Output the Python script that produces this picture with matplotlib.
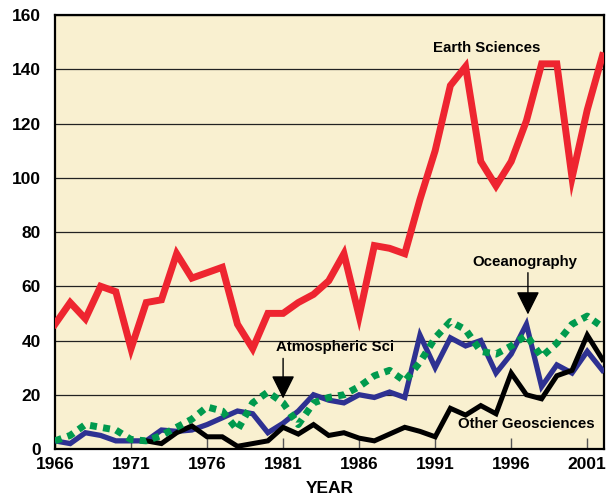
import numpy as np
import matplotlib.pyplot as plt

plt.rcParams['font.family'] = ['Liberation Sans', 'DejaVu Sans']
plt.rcParams['font.weight'] = 'bold'

years = np.arange(1966, 2003)
earth = [46, 54, 48, 60, 58, 37, 54, 55, 72, 63, 65, 67, 46, 37, 50, 50,
         54, 57, 62, 72, 49, 75, 74, 72, 92, 110, 134, 141, 106, 97, 106,
         121, 142, 142, 100, 125, 145]
ocean = [3, 2, 6, 5, 3, 3, 3, 7, 6.5, 7, 9, 11.5, 14, 13, 6, 9.5, 14, 20,
         18, 17, 20, 19, 21, 19, 42, 30, 41, 38, 40, 28, 35, 46, 23, 31,
         28, 36, 29]
atmos = [3, 5, 9, 8, 7, 3.5, 3, 5, 8, 11, 15.5, 14, 7, 17, 21, 17, 9, 17,
         19, 20, 23, 27, 29, 25, 32, 41, 47, 44, 36, 35, 38, 42, 34, 39,
         46, 49, 45]
other_years = np.arange(1972, 2003)
other = [3, 2, 6, 8.5, 4.5, 4.5, 1, 2, 3, 8, 5.5, 9, 5, 6, 4, 3, 5.5, 8,
         6.5, 4.5, 15, 12.5, 16, 13, 28, 20, 18.5, 27, 29, 42, 33]

fig = plt.figure(figsize=(6.07, 5.01), dpi=100)
ax = fig.add_axes([0.0906, 0.1038, 0.9044, 0.8662])
ax.set_facecolor('#f9f0d0')

ax.plot(years, earth, color='#ee2530', lw=5, zorder=3, solid_joinstyle='miter')
ax.plot(years, ocean, color='#2e3192', lw=3.8, zorder=3, solid_joinstyle='miter')
ax.plot(other_years, other, color='black', lw=3.6, zorder=4, solid_joinstyle='miter')
ax.plot(years, atmos, color='#009a4e', lw=5, zorder=5, linestyle=(0, (1, 0.9)),
        dash_capstyle='butt')

ax.set_xlim(1966, 2002.1)
ax.set_ylim(0, 160)
ax.set_xticks(np.arange(1966, 2002, 5))
ax.set_yticks(np.arange(0, 161, 20))
ax.yaxis.grid(True, color='#222222', lw=0.9)
ax.set_axisbelow(True)
ax.tick_params(axis='x', direction='in', length=8, width=1, color='#555555',
               labelsize=12.5, pad=6)
ax.tick_params(axis='y', length=0, labelsize=12.5, pad=10)
for s in ax.spines.values():
    s.set_linewidth(1.6)
ax.set_xlabel('YEAR', fontsize=12.5, fontweight='bold', labelpad=6)

ax.text(1994.4, 148, 'Earth Sciences', fontsize=10.8, ha='center', va='center', zorder=6)
ax.text(1996.9, 69, 'Oceanography', fontsize=10.8, ha='center', va='center', zorder=6)
ax.text(1984.4, 37.5, 'Atmospheric Sci', fontsize=10.8, ha='center', va='center', zorder=6)
ax.text(1997.0, 9.4, 'Other Geosciences', fontsize=10.8, ha='center', va='center', zorder=6)

arrow = dict(arrowstyle='-|>,head_length=0.9,head_width=0.45', color='black',
             lw=1, mutation_scale=16, shrinkA=0, shrinkB=0)
ax.annotate('', xy=(1981, 18.6), xytext=(1981, 33.4), arrowprops=arrow, zorder=6)
ax.annotate('', xy=(1997.1, 49.6), xytext=(1997.1, 65), arrowprops=arrow, zorder=6)

fig.savefig('out.png', dpi=100)
